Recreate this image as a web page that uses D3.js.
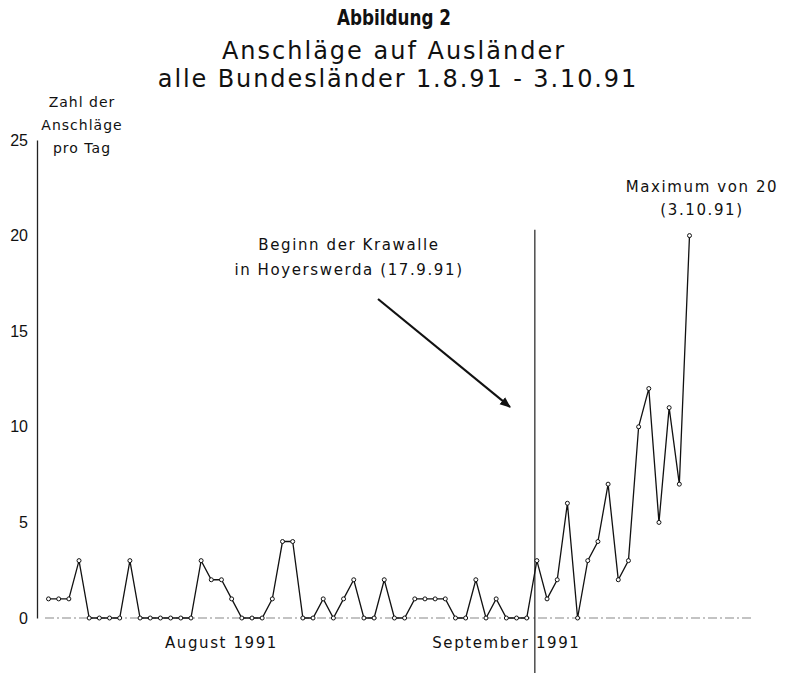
<!DOCTYPE html>
<html>
<head>
<meta charset="utf-8">
<script src="https://cdn.jsdelivr.net/npm/d3@7"></script>
<style>
  body { margin: 0; background: #fff; }
  svg { display: block; }
  .lbl { font-family: "DejaVu Sans", sans-serif; font-size: 15px; letter-spacing: 1.6px; fill: #111; }
  .ylbl { font-family: "DejaVu Sans", sans-serif; font-size: 14px; letter-spacing: 1px; fill: #111; }
</style>
</head>
<body>
<svg id="chart" width="789" height="673"></svg>
<script>
// Anschläge pro Tag, 1.8.91 bis 3.10.91 (64 Tage)
var counts = [
  1, 1, 1, 3, 0, 0, 0, 0, 3, 0, 0, 0, 0, 0, 0, 3,
  2, 2, 1, 0, 0, 0, 1, 4, 4, 0, 0, 1, 0, 1, 2,
  0, 0, 2, 0, 0, 1, 1, 1, 1, 0, 0, 2, 0, 1, 0, 0, 0,
  3, 1, 2, 6, 0, 3, 4, 7, 2, 3, 10, 12, 5, 11, 7, 20
];
var yTicks = [0, 5, 10, 15, 20, 25];
var monthLabels = [
  {text: "August 1991", day: 17},
  {text: "September 1991", day: 45}
];
var eventDay = 47.8; // Krawalle in Hoyerswerda (17.9.91)

var svg = d3.select("#chart");

var x = d3.scaleLinear().domain([0, counts.length - 1]).range([48.5, 689.5]);
var y = d3.scaleLinear().domain([0, 25]).range([618, 140]);

// y axis
var yAxis = d3.axisLeft(y).tickValues(yTicks).tickSize(0).tickPadding(9);
var gy = svg.append("g").attr("transform", "translate(37,0)").call(yAxis);
gy.select(".domain").attr("stroke", "#222").attr("stroke-width", 1.3);
gy.selectAll("text")
  .attr("font-family", "Liberation Sans, Arial, sans-serif")
  .attr("font-size", 16)
  .attr("fill", "#111");

// baseline
svg.append("line")
  .attr("x1", 45).attr("x2", 753)
  .attr("y1", y(0)).attr("y2", y(0))
  .attr("stroke", "#888").attr("stroke-width", 1.2)
  .attr("stroke-dasharray", "9,3,2,3");

// event line
svg.append("line")
  .attr("x1", x(eventDay)).attr("x2", x(eventDay))
  .attr("y1", y(20.3)).attr("y2", 673)
  .attr("stroke", "#222").attr("stroke-width", 1.2);

// data line
var line = d3.line()
  .x(function(d, i){ return x(i); })
  .y(function(d){ return y(d); });

svg.append("path")
  .datum(counts)
  .attr("d", line)
  .attr("fill", "none")
  .attr("stroke", "#111")
  .attr("stroke-width", 1.3);

svg.selectAll("circle.pt").data(counts).enter().append("circle")
  .attr("class", "pt")
  .attr("cx", function(d, i){ return x(i); })
  .attr("cy", function(d){ return y(d); })
  .attr("r", 2)
  .attr("fill", "#fff")
  .attr("stroke", "#111")
  .attr("stroke-width", 1);

// titles
svg.append("text")
  .attr("transform", "translate(394,25) scale(0.8,1)")
  .attr("text-anchor", "middle")
  .attr("font-family", "DejaVu Sans, sans-serif")
  .attr("font-size", 21)
  .attr("font-weight", 600)
  .attr("fill", "#111")
  .text("Abbildung 2");

svg.append("text")
  .attr("x", 394).attr("y", 59)
  .attr("text-anchor", "middle")
  .attr("font-family", "DejaVu Sans, sans-serif")
  .attr("font-size", 24)
  .attr("letter-spacing", 2)
  .attr("fill", "#111")
  .text("Anschläge auf Ausländer");

svg.append("text")
  .attr("x", 398).attr("y", 87)
  .attr("text-anchor", "middle")
  .attr("font-family", "DejaVu Sans, sans-serif")
  .attr("font-size", 24)
  .attr("letter-spacing", 1.9)
  .attr("fill", "#111")
  .text("alle Bundesländer 1.8.91 - 3.10.91");

// y label
var yl = svg.append("text").attr("class", "ylbl").attr("text-anchor", "middle");
["Zahl der", "Anschläge", "pro Tag"].forEach(function(t, i){
  yl.append("tspan").attr("x", 82).attr("y", 107 + i * 23).text(t);
});

// month labels
svg.selectAll("text.month").data(monthLabels).enter().append("text")
  .attr("class", "lbl month")
  .attr("x", function(d){ return x(d.day); })
  .attr("y", 648)
  .attr("text-anchor", "middle")
  .text(function(d){ return d.text; });

// annotations
var ev = svg.append("text").attr("class", "lbl").attr("text-anchor", "middle");
ev.append("tspan").attr("x", 349).attr("y", 250).text("Beginn der Krawalle");
ev.append("tspan").attr("x", 349).attr("y", 275).text("in Hoyerswerda (17.9.91)");

var mx = svg.append("text").attr("class", "lbl").attr("text-anchor", "middle");
mx.append("tspan").attr("x", 702).attr("y", 192).text("Maximum von 20");
mx.append("tspan").attr("x", 702).attr("y", 215).text("(3.10.91)");

// arrow
svg.append("defs").append("marker")
  .attr("id", "arr")
  .attr("viewBox", "0 0 10 10")
  .attr("refX", 9).attr("refY", 5)
  .attr("markerWidth", 5).attr("markerHeight", 5)
  .attr("orient", "auto")
  .append("path").attr("d", "M0,1 L10,5 L0,9 Z").attr("fill", "#111");

svg.append("line")
  .attr("x1", 378).attr("y1", 299)
  .attr("x2", 510).attr("y2", 407)
  .attr("stroke", "#111").attr("stroke-width", 2.2)
  .attr("marker-end", "url(#arr)");
</script>
</body>
</html>
